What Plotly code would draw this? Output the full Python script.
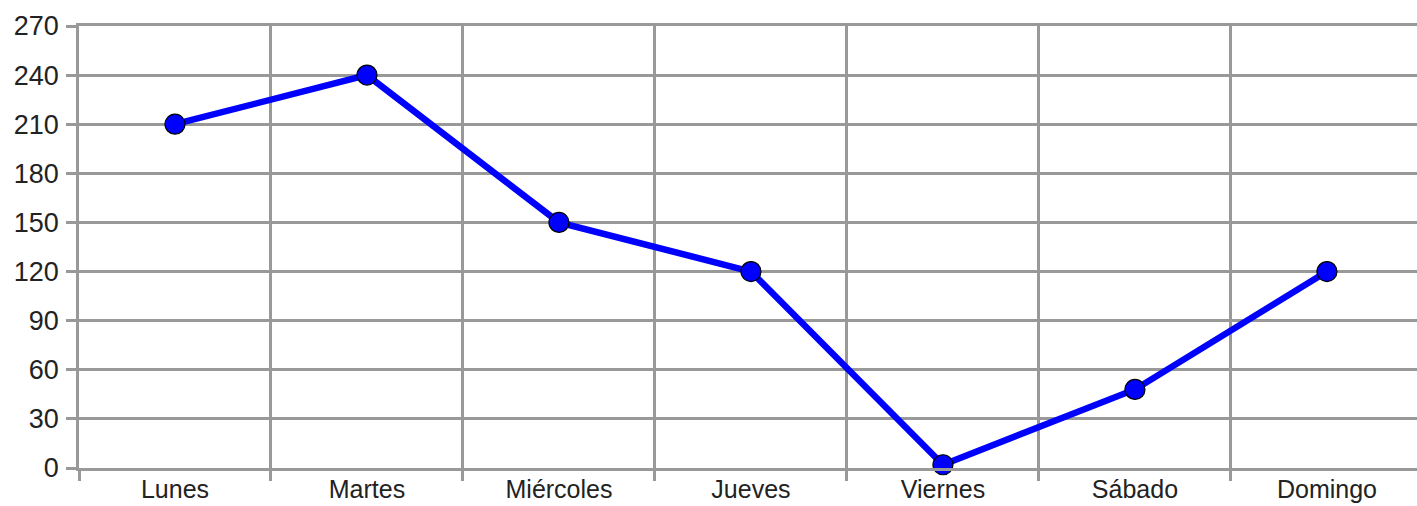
import plotly.graph_objects as go

# Weekly values
dias = ["Lunes", "Martes", "Miércoles", "Jueves", "Viernes", "Sábado", "Domingo"]
valores = [210, 240, 150, 120, 2, 48, 120]
y_ticks = [0, 30, 60, 90, 120, 150, 180, 210, 240, 270]

GRID = "#999999"
TEXT = "#222222"
FONT = "Liberation Sans, Arial, sans-serif"
FSIZE = 27

fig = go.Figure(
    go.Scatter(
        x=dias,
        y=valores,
        mode="lines+markers",
        line=dict(color="#0000FF", width=6.5),
        marker=dict(size=20, color="#0000FF", line=dict(color="#000000", width=1.2)),
        cliponaxis=False,
        showlegend=False,
    )
)

fig.update_layout(
    width=1417,
    height=506,
    margin=dict(l=79, r=0, t=26, b=38),
    paper_bgcolor="white",
    plot_bgcolor="white",
    font=dict(family=FONT, size=FSIZE, color=TEXT),
)

fig.update_xaxes(
    type="category",
    categoryorder="array",
    categoryarray=dias,
    range=[-0.5, 6.469],
    tickson="boundaries",
    ticks="outside",
    ticklen=10,
    tickwidth=2.5,
    tickcolor=GRID,
    showgrid=True,
    gridcolor=GRID,
    gridwidth=2.5,
    showline=True,
    linecolor=GRID,
    linewidth=2.5,
    mirror=True,
    automargin=False,
    ticklabelstandoff=-3,
    tickfont=dict(family=FONT, size=25, color=TEXT),
)

fig.update_yaxes(
    range=[0, 270],
    tickvals=y_ticks,
    ticks="outside",
    ticklen=10,
    tickwidth=2.5,
    tickcolor=GRID,
    showgrid=True,
    gridcolor=GRID,
    gridwidth=2.5,
    zeroline=False,
    showline=True,
    linecolor=GRID,
    linewidth=2.5,
    automargin=False,
    ticklabelstandoff=2,
    tickfont=dict(family=FONT, size=FSIZE, color=TEXT),
)

fig.write_html("out.html")
